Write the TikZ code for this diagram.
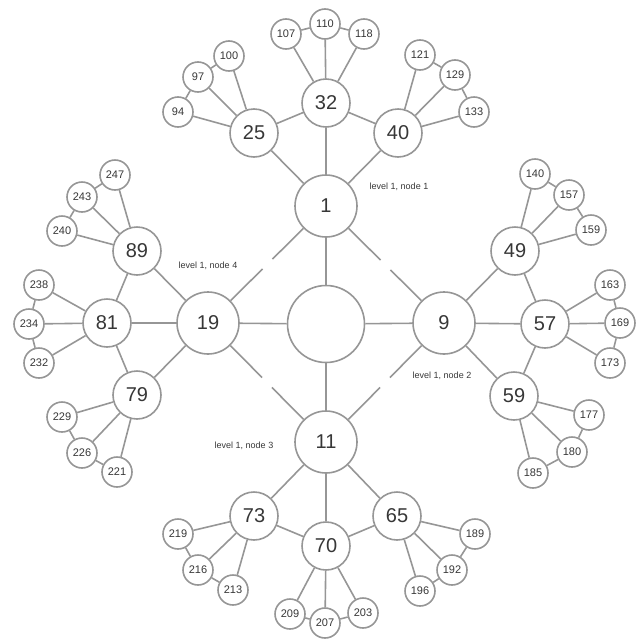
\documentclass[tikz,border=0pt]{standalone}
\usepackage{fontspec}
\setmainfont{Liberation Sans}
\definecolor{linegray}{RGB}{150,150,150}
\definecolor{textgray}{RGB}{55,55,55}
\usetikzlibrary{positioning,calc}

\tikzset{
  treenode/.style={circle, draw=linegray, line width=1.6pt, fill=white, inner sep=0pt, text=textgray},
  hubnode/.style={treenode, minimum size=77pt},
  levelone/.style={treenode, minimum size=62pt, font=\fontsize{20}{24}\selectfont},
  leveltwo/.style={treenode, minimum size=48pt, font=\fontsize{20}{24}\selectfont},
  levelthree/.style={treenode, minimum size=30pt, font=\fontsize{11}{13}\selectfont},
  edgeline/.style={draw=linegray, line width=1.6pt},
  gapline/.style={edgeline, dash pattern=on 45pt off 14pt on 90pt off 14pt},
  lvllabel/.style={text=textgray, font=\fontsize{9}{11}\selectfont, inner sep=0pt}
}

\begin{document}
\begin{tikzpicture}[x=1pt, y=-1pt]
  \useasboundingbox (0,0) rectangle (644,640);

  % centre and level 1
  \node[hubnode] (hub) at (326,324) {};
  \node[levelone] (n1) at (326,206) {1};
  \node[levelone] (n9) at (444,323) {9};
  \node[levelone] (n11) at (326,442) {11};
  \node[levelone] (n19) at (208,323) {19};

  % level 2
  \node[leveltwo] (n25) at (254,133) {25};
  \node[leveltwo] (n32) at (326,103) {32};
  \node[leveltwo] (n40) at (398,133) {40};
  \node[leveltwo] (n49) at (515,251) {49};
  \node[leveltwo] (n57) at (545,324) {57};
  \node[leveltwo] (n59) at (514,396) {59};
  \node[leveltwo] (n65) at (397,516) {65};
  \node[leveltwo] (n70) at (326,546) {70};
  \node[leveltwo] (n73) at (254,516) {73};
  \node[leveltwo] (n79) at (137,395) {79};
  \node[leveltwo] (n81) at (107,323) {81};
  \node[leveltwo] (n89) at (137,251) {89};

  % level 3
  \node[levelthree] (n94) at (178,112) {94};
  \node[levelthree] (n97) at (198,77) {97};
  \node[levelthree] (n100) at (229,56) {100};
  \node[levelthree] (n107) at (286,34) {107};
  \node[levelthree] (n110) at (325,24) {110};
  \node[levelthree] (n118) at (364,34) {118};
  \node[levelthree] (n121) at (420,55) {121};
  \node[levelthree] (n129) at (455,75) {129};
  \node[levelthree] (n133) at (474,112) {133};
  \node[levelthree] (n140) at (535,174) {140};
  \node[levelthree] (n157) at (569,195) {157};
  \node[levelthree] (n159) at (591,230) {159};
  \node[levelthree] (n163) at (610,285) {163};
  \node[levelthree] (n169) at (620,323) {169};
  \node[levelthree] (n173) at (610,363) {173};
  \node[levelthree] (n177) at (589,415) {177};
  \node[levelthree] (n180) at (572,452) {180};
  \node[levelthree] (n185) at (533,473) {185};
  \node[levelthree] (n189) at (475,534) {189};
  \node[levelthree] (n192) at (452,570) {192};
  \node[levelthree] (n196) at (420,591) {196};
  \node[levelthree] (n203) at (363,613) {203};
  \node[levelthree] (n207) at (325,623) {207};
  \node[levelthree] (n209) at (290,614) {209};
  \node[levelthree] (n213) at (233,590) {213};
  \node[levelthree] (n216) at (198,570) {216};
  \node[levelthree] (n219) at (178,534) {219};
  \node[levelthree] (n221) at (117,472) {221};
  \node[levelthree] (n226) at (82,453) {226};
  \node[levelthree] (n229) at (62,417) {229};
  \node[levelthree] (n232) at (39,363) {232};
  \node[levelthree] (n234) at (29,324) {234};
  \node[levelthree] (n238) at (39,285) {238};
  \node[levelthree] (n240) at (62,231) {240};
  \node[levelthree] (n243) at (82,197) {243};
  \node[levelthree] (n247) at (115,175) {247};

  % labels
  \node[lvllabel] (lab1) at (399,187) {level 1, node 1};
  \node[lvllabel] (lab2) at (442,376) {level 1, node 2};
  \node[lvllabel] (lab3) at (244,446) {level 1, node 3};
  \node[lvllabel] (lab4) at (208,266) {level 1, node 4};

  % connectors
  \foreach \a/\b in {hub/n1, hub/n9, hub/n11, hub/n19,
    n1/n25, n1/n32, n1/n40, n25/n32, n32/n40,
    n9/n49, n9/n57, n9/n59, n49/n57, n57/n59,
    n11/n73, n11/n70, n11/n65, n73/n70, n70/n65,
    n19/n89, n19/n81, n19/n79, n89/n81, n81/n79,
    n25/n94, n25/n97, n25/n100, n94/n97, n97/n100,
    n32/n107, n32/n110, n32/n118, n107/n110, n110/n118,
    n40/n121, n40/n129, n40/n133, n121/n129, n129/n133,
    n49/n140, n49/n157, n49/n159, n140/n157, n157/n159,
    n57/n163, n57/n169, n57/n173, n163/n169, n169/n173,
    n59/n177, n59/n180, n59/n185, n177/n180, n180/n185,
    n65/n189, n65/n192, n65/n196, n189/n192, n192/n196,
    n70/n203, n70/n207, n70/n209, n203/n207, n207/n209,
    n73/n213, n73/n216, n73/n219, n213/n216, n216/n219,
    n79/n221, n79/n226, n79/n229, n221/n226, n226/n229,
    n81/n232, n81/n234, n81/n238, n232/n234, n234/n238,
    n89/n240, n89/n243, n89/n247, n240/n243, n243/n247}
    \draw[edgeline] (\a) -- (\b);

  % broken ring between level 1 nodes
  \draw[gapline] (n1) -- (n9);
  \draw[gapline] (n9) -- (n11);
  \draw[gapline] (n11) -- (n19);
  \draw[gapline] (n19) -- (n1);
\end{tikzpicture}
\end{document}
